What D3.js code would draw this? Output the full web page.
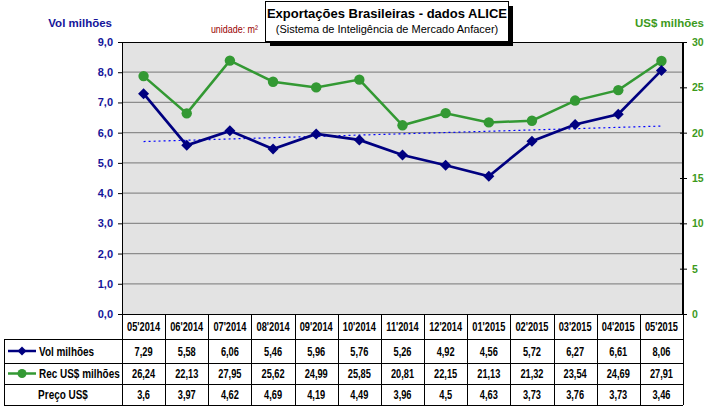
<!DOCTYPE html>
<html><head><meta charset="utf-8">
<script src="https://cdn.jsdelivr.net/npm/d3@7"></script>
<style>body{margin:0;background:#fff;}svg{display:block;}</style>
</head><body>
<svg id="c" width="708" height="410"></svg>
<script>
const categories = ["05'2014","06'2014","07'2014","08'2014","09'2014","10'2014","11'2014","12'2014","01'2015","02'2015","03'2015","04'2015","05'2015"];
const volValues = [7.29,5.58,6.06,5.46,5.96,5.76,5.26,4.92,4.56,5.72,6.27,6.61,8.06];
const recValues = [26.24,22.13,27.95,25.62,24.99,25.85,20.81,22.15,21.13,21.32,23.54,24.69,27.91];
const precoValues = ["3,6","3,97","4,62","4,69","4,19","4,49","3,96","4,5","4,63","3,73","3,76","3,73","3,46"];
const leftTicks = [0,1,2,3,4,5,6,7,8,9];
const rightTicks = [0,5,10,15,20,25,30];
const seriesNames = ["Vol milhões","Rec US$ milhões","Preço US$"];

const svg = d3.select("#c");
const L = 122, R = 683, T = 42, B = 314;
const navy = "#000080", green = "#339933", axisBlue = "#14149a", rightCol = "#3d9a1c";
const fmt = v => v.toFixed(2).replace(".", ",");
const fmt1 = v => v.toFixed(1).replace(".", ",");
const SX = 0.77; // horizontal condensation for table text

const x = d3.scaleBand().domain(categories).range([L, R]).padding(0);
const cx = d => x(d) + x.bandwidth() / 2;
const yL = d3.scaleLinear().domain([0, 9]).range([B, T]);
const yR = d3.scaleLinear().domain([0, 30]).range([B, T]);

// plot background
svg.append("rect").attr("x", L).attr("y", T).attr("width", R - L).attr("height", B - T).attr("fill", "#e3e3e3");
// gridlines
svg.append("g").selectAll("line").data(leftTicks.filter(d => d > 0 && d < 9)).join("line")
  .attr("x1", L).attr("x2", R).attr("y1", d => yL(d)).attr("y2", d => yL(d))
  .attr("stroke", "#8c8c8c").attr("stroke-width", 1.3);
svg.append("rect").attr("x", L + 0.5).attr("y", T + 0.5).attr("width", R - L - 1).attr("height", B - T)
  .attr("fill", "none").attr("stroke", "#000").attr("stroke-width", 1);

// left axis
const gl = svg.append("g").attr("transform", `translate(${L},0)`)
  .call(d3.axisLeft(yL).tickValues(leftTicks).tickFormat(fmt1).tickSize(4).tickSizeOuter(0));
gl.select(".domain").attr("stroke", "#000");
gl.selectAll("text").attr("fill", axisBlue).attr("font-family", "Liberation Sans, Arial, sans-serif")
  .attr("font-weight", "bold").attr("font-size", "11px").attr("x", -9);
// right axis
const gr = svg.append("g").attr("transform", `translate(${R},0)`)
  .call(d3.axisRight(yR).tickValues(rightTicks).tickSize(4).tickSizeOuter(0));
gr.select(".domain").attr("stroke", "#000");
gr.selectAll(".tick line").attr("x1", -3);
gr.selectAll("text").attr("fill", rightCol).attr("font-family", "Liberation Sans, Arial, sans-serif")
  .attr("font-weight", "bold").attr("font-size", "10.5px").attr("x", 9);

// trend line (least squares on volume, as the chart's linear trendline)
const n = volValues.length, idx = d3.range(n);
const mx = d3.mean(idx), my = d3.mean(volValues);
const slope = d3.sum(idx, i => (i - mx) * (volValues[i] - my)) / d3.sum(idx, i => (i - mx) ** 2);
const icpt = my - slope * mx;
svg.append("line").attr("x1", cx(categories[0])).attr("x2", cx(categories[n - 1]))
  .attr("y1", yL(icpt)).attr("y2", yL(icpt + slope * (n - 1)))
  .attr("stroke", "#0000ff").attr("stroke-width", 1.2).attr("stroke-dasharray", "2,3");

// Rec line
svg.append("path").datum(recValues)
  .attr("d", d3.line().x((d, i) => cx(categories[i])).y(d => yR(d)))
  .attr("fill", "none").attr("stroke", green).attr("stroke-width", 2.5);
svg.append("g").selectAll("circle").data(recValues).join("circle")
  .attr("cx", (d, i) => cx(categories[i])).attr("cy", d => yR(d)).attr("r", 5.2).attr("fill", green);

// Vol line
svg.append("path").datum(volValues)
  .attr("d", d3.line().x((d, i) => cx(categories[i])).y(d => yL(d)))
  .attr("fill", "none").attr("stroke", navy).attr("stroke-width", 2.7);
const diamond = (x0, y0, s) => `M${x0},${y0 - s}L${x0 + s},${y0}L${x0},${y0 + s}L${x0 - s},${y0}Z`;
svg.append("g").selectAll("path").data(volValues).join("path")
  .attr("d", (d, i) => diamond(cx(categories[i]), yL(d), 5.5)).attr("fill", navy);

// axis titles
svg.append("text").attr("x", 112).attr("y", 27).attr("text-anchor", "end")
  .attr("font-family", "Liberation Sans, Arial, sans-serif").attr("font-weight", "bold").attr("font-size", "11.5px")
  .attr("fill", axisBlue).text("Vol milhões");
svg.append("text").attr("x", 704).attr("y", 27).attr("text-anchor", "end")
  .attr("font-family", "Liberation Sans, Arial, sans-serif").attr("font-weight", "bold").attr("font-size", "11.5px")
  .attr("fill", rightCol).text("US$ milhões");
svg.append("text").attr("transform", `translate(258,33) scale(0.85,1)`).attr("text-anchor", "end")
  .attr("font-family", "Liberation Sans, Arial, sans-serif").attr("font-size", "10.5px")
  .attr("fill", "#990000").text("unidade: m²");

// title box
svg.append("rect").attr("x", 270).attr("y", 6).attr("width", 243).attr("height", 40).attr("fill", "#000");
svg.append("rect").attr("x", 265.5).attr("y", 1.5).attr("width", 243).attr("height", 40)
  .attr("fill", "#fff").attr("stroke", "#000").attr("stroke-width", 1);
svg.append("text").attr("x", 387).attr("y", 18).attr("text-anchor", "middle")
  .attr("font-family", "Liberation Sans, Arial, sans-serif").attr("font-weight", "bold").attr("font-size", "13px")
  .text("Exportações Brasileiras - dados ALICE");
svg.append("text").attr("x", 387).attr("y", 33).attr("text-anchor", "middle")
  .attr("font-family", "Liberation Sans, Arial, sans-serif").attr("font-size", "11px")
  .text("(Sistema de Inteligência de Mercado Anfacer)");

// data table
const rowY = [314, 339, 363, 384, 405];
const tbl = svg.append("g").attr("font-family", "Liberation Sans, Arial, sans-serif")
  .attr("font-weight", "bold").attr("font-size", "12px").attr("fill", "#000");
const lineAttr = s => s.attr("stroke", "#000").attr("stroke-width", 1).attr("shape-rendering", "crispEdges");
lineAttr(tbl.append("line").attr("x1", L).attr("x2", R).attr("y1", rowY[0] + 0.5).attr("y2", rowY[0] + 0.5));
rowY.slice(1).forEach(y => lineAttr(tbl.append("line").attr("x1", 4).attr("x2", R).attr("y1", y + 0.5).attr("y2", y + 0.5)));
categories.forEach(c => lineAttr(tbl.append("line").attr("x1", x(c) + 0.5).attr("x2", x(c) + 0.5).attr("y1", rowY[0]).attr("y2", rowY[4])));
lineAttr(tbl.append("line").attr("x1", R + 0.5).attr("x2", R + 0.5).attr("y1", rowY[0]).attr("y2", rowY[4]));
lineAttr(tbl.append("line").attr("x1", 4.5).attr("x2", 4.5).attr("y1", rowY[1]).attr("y2", rowY[4]));

const mid = i => (rowY[i] + rowY[i + 1]) / 2 + 4.5;
const place = (xx, yy) => `translate(${xx},${yy}) scale(${SX},1)`;
tbl.append("g").selectAll("text").data(categories).join("text")
  .attr("transform", d => place(cx(d), mid(0))).attr("text-anchor", "middle").text(d => d);
tbl.append("g").selectAll("text").data(volValues).join("text")
  .attr("transform", (d, i) => place(cx(categories[i]), mid(1))).attr("text-anchor", "middle").text(fmt);
tbl.append("g").selectAll("text").data(recValues).join("text")
  .attr("transform", (d, i) => place(cx(categories[i]), mid(2))).attr("text-anchor", "middle").text(fmt);
tbl.append("g").selectAll("text").data(precoValues).join("text")
  .attr("transform", (d, i) => place(cx(categories[i]), mid(3))).attr("text-anchor", "middle").text(d => d);

// legend keys
const ly1 = (rowY[1] + rowY[2]) / 2, ly2 = (rowY[2] + rowY[3]) / 2;
tbl.append("line").attr("x1", 8).attr("x2", 36).attr("y1", ly1).attr("y2", ly1).attr("stroke", navy).attr("stroke-width", 2.5);
tbl.append("path").attr("d", diamond(22, ly1, 4.5)).attr("fill", navy);
tbl.append("line").attr("x1", 8).attr("x2", 36).attr("y1", ly2).attr("y2", ly2).attr("stroke", green).attr("stroke-width", 2.5);
tbl.append("circle").attr("cx", 22).attr("cy", ly2).attr("r", 4.5).attr("fill", green);
const lp = (xx, yy) => `translate(${xx},${yy}) scale(0.83,1)`;
tbl.append("text").attr("transform", lp(39, mid(1))).text(seriesNames[0]);
tbl.append("text").attr("transform", lp(39, mid(2))).text(seriesNames[1]);
tbl.append("text").attr("transform", lp(63, mid(3))).attr("text-anchor", "middle").text(seriesNames[2]);
</script>
</body></html>
